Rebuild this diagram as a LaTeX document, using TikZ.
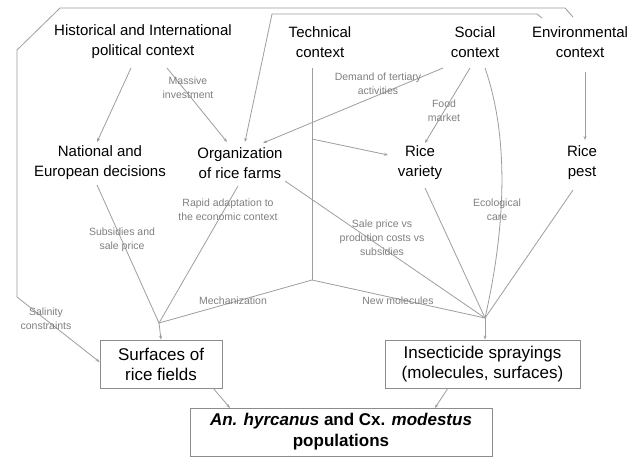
\documentclass[tikz,border=0pt]{standalone}
\usepackage{fontspec}
\setmainfont{Liberation Sans}
\usetikzlibrary{arrows.meta,calc}
\begin{document}
\begin{tikzpicture}[x=1pt,y=-1pt,
  ctx/.style={font=\fontsize{15}{20}\selectfont, align=center, inner sep=0pt, text=black},
  box/.style={draw=black!45, line width=0.9pt, font=\fontsize{17}{20}\selectfont, align=center, inner sep=2pt},
  lab/.style={font=\fontsize{10.5}{14}\selectfont, text=black!50, align=center, inner sep=0pt},
  con/.style={draw=black!38, line width=0.8pt},
  arr/.style={con, -{Stealth[length=4pt,width=3pt]}},
]
\useasboundingbox (0,0) rectangle (631,456);
\fill[white] (0,0) rectangle (631,456);

% context nodes
\node[ctx] (hist) at (143,42) {Historical and International\\political context};
\node[ctx] (tech) at (320,42) {Technical\\context};
\node[ctx] (soc) at (475,42) {Social\\context};
\node[ctx] (env) at (580,42) {Environmental\\context};
\node[ctx] (nat) at (100,163) {National and\\European decisions};
\node[ctx] (org) at (240,163) {Organization\\of rice farms};
\node[ctx] (var) at (420,163) {Rice\\variety};
\node[ctx] (pest) at (582,163) {Rice\\pest};

% boxes
\node[box, minimum width=122, minimum height=48] (surf) at (161,364) {Surfaces of\\rice fields};
\node[box, minimum width=195, minimum height=48] (ins) at (482.5,364) {Insecticide sprayings\\(molecules, surfaces)};
\node[box, minimum width=302, minimum height=48, font=\fontsize{17}{21}\selectfont\bfseries] (pop) at (341,432) {\textit{An. hyrcanus} and Cx. \textit{modestus}\\populations};

% junctions and corners
\coordinate (j1) at (159,323);
\coordinate (tj) at (312,280);
\coordinate (j2) at (485,318);
\coordinate (tv) at (312,139);
\coordinate (a1) at (565,8);
\coordinate (a2) at (60,8);
\coordinate (a3) at (17,50);
\coordinate (a4) at (17,297);
\coordinate (b1) at (537,14);
\coordinate (b2) at (272,14);

% connectors
\draw[arr] ($(hist)+(-12,26)$) -- ($(nat)+(-3,-21)$);
\draw[arr] ($(hist)+(24,26)$) -- ($(org)+(-13,-21)$);
\draw[arr] ($(env)+(-38,-24)$) -- (b1) -- (b2) -- ($(org)+(5,-21)$);
\draw[arr] ($(env)+(-7,-25)$) -- (a1) -- (a2) -- (a3) -- (a4) -- ($(surf.west)+(0,-2)$);
\draw[con] ($(tech)+(-8,26)$) -- (tj);
\draw[arr] (tv) -- ($(var)+(-32,-8)$);
\draw[arr] ($(soc)+(-32,26)$) -- ($(org)+(23,-20)$);
\draw[arr] ($(soc)+(-5,26)$) -- ($(var)+(5,-20)$);
\draw[con] ($(soc)+(10,26)$) .. controls (510,140) and (505,230) .. (j2);
\draw[arr] ($(env)+(5,30)$) -- ($(pest)+(3,-23)$);
\draw[con] ($(nat)+(-3,22)$) -- (j1);
\draw[con] ($(org)+(-2,23)$) -- (j1);
\draw[con] ($(org)+(45,18)$) -- (j2);
\draw[con] ($(var)+(5,25)$) -- (j2);
\draw[con] ($(pest)+(-9,27)$) -- (j2);
\draw[con] (tj) -- (j1);
\draw[con] (tj) -- (j2);
\draw[arr] (j1) -- (surf.north);
\draw[arr] (j2) -- (ins.north -| j2);
\draw[arr] ($(surf)+(52,24)$) -- ($(pop)+(-111,-24)$);
\draw[arr] ($(ins)+(-34.5,24)$) -- ($(pop)+(94,-24)$);

% labels
\node[lab] (l1) at (188,88) {Massive\\investment};
\node[lab] (l2) at (378,84) {Demand of tertiary\\activities};
\node[lab] (l3) at (444,111) {Food\\market};
\node[lab] (l4) at (228,210) {Rapid adaptation to\\the economic context};
\node[lab] (l5) at (122,240) {Subsidies and\\sale price};
\node[lab] (l6) at (382,238) {Sale price vs\\prodution costs vs\\subsidies};
\node[lab] (l7) at (497,210) {Ecological\\care};
\node[lab] (l8) at (233,301) {Mechanization};
\node[lab] (l9) at (398,301) {New molecules};
\node[lab] (l10) at (46,319) {Salinity\\constraints};
\end{tikzpicture}
\end{document}
